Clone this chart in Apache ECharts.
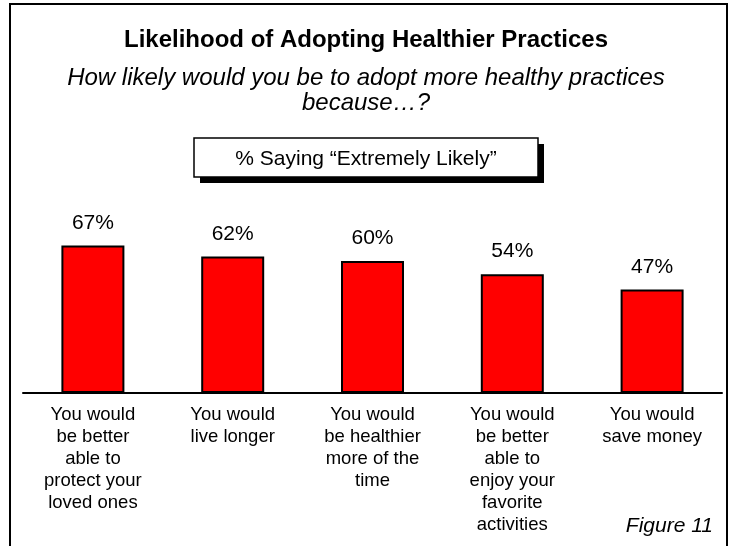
<!DOCTYPE html>
<html>
<head>
<meta charset="utf-8">
<script src="https://cdn.jsdelivr.net/npm/echarts@6/dist/echarts.min.js"></script>
<style>
  html, body { margin: 0; padding: 0; background: #fff; }
  #chart { width: 730px; height: 546px; }
</style>
</head>
<body>
<div id="chart"></div>
<script>
// Survey reasons (category labels, with manual line breaks)
const categories = [
  'You would\nbe better\nable to\nprotect your\nloved ones',
  'You would\nlive longer',
  'You would\nbe healthier\nmore of the\ntime',
  'You would\nbe better\nable to\nenjoy your\nfavorite\nactivities',
  'You would\nsave money'
];
// Percent saying "Extremely Likely"
const extremelyLikely = [67, 62, 60, 54, 47];

const titleText = 'Likelihood of Adopting Healthier Practices';
const subtitleText = 'How likely would you be to adopt more healthy practices\nbecause\u2026?';
const boxText = '% Saying \u201cExtremely Likely\u201d';
const figureText = 'Figure 11';

const FONT = '"Liberation Sans", Arial, Helvetica, sans-serif';

const chart = echarts.init(document.getElementById('chart'), null, { renderer: 'canvas' });

chart.setOption({
  backgroundColor: '#ffffff',
  animation: false,
  grid: { left: 23, right: 8, top: 173, bottom: 546 - 393, containLabel: false },
  xAxis: {
    type: 'category',
    data: categories,
    axisLine: { show: true, lineStyle: { color: '#000', width: 2 } },
    axisTick: { show: false },
    axisLabel: {
      interval: 0,
      margin: 11,
      fontFamily: FONT,
      fontSize: 18.5,
      lineHeight: 22,
      color: '#000',
      align: 'center'
    }
  },
  yAxis: {
    type: 'value',
    min: 0,
    max: 100,
    show: false,
    splitLine: { show: false }
  },
  series: [{
    type: 'bar',
    data: extremelyLikely,
    barWidth: 63,
    itemStyle: { color: '#ff0000', borderColor: '#000', borderWidth: 2 },
    label: {
      show: true,
      position: 'top',
      distance: 12,
      formatter: p => p.value + '%',
      fontFamily: FONT,
      fontSize: 21,
      color: '#000'
    }
  }],
  graphic: [
    // outer frame
    {
      type: 'rect', z: 100, silent: true,
      shape: { x: 10, y: 4, width: 717, height: 580 },
      style: { fill: 'none', stroke: '#000', lineWidth: 2 }
    },
    // heading
    {
      type: 'text', z: 100,
      style: {
        text: titleText, x: 366, y: 40, align: 'center', verticalAlign: 'middle',
        font: 'bold 24px ' + FONT, fill: '#000'
      }
    },
    {
      type: 'text', z: 100,
      style: {
        text: subtitleText, x: 366, y: 91, align: 'center', verticalAlign: 'middle',
        font: 'italic 24px ' + FONT, lineHeight: 25, fill: '#000'
      }
    },
    // callout box with drop shadow
    {
      type: 'rect', z: 99,
      shape: { x: 200, y: 144, width: 344, height: 39 },
      style: { fill: '#000' }
    },
    {
      type: 'rect', z: 100,
      shape: { x: 194, y: 138, width: 344, height: 39 },
      style: { fill: '#fff', stroke: '#000', lineWidth: 1.5 }
    },
    {
      type: 'text', z: 101,
      style: {
        text: boxText, x: 366, y: 159, align: 'center', verticalAlign: 'middle',
        font: '21px ' + FONT, fill: '#000'
      }
    },
    {
      type: 'text', z: 100,
      style: {
        text: figureText, x: 713, y: 526, align: 'right', verticalAlign: 'middle',
        font: 'italic 21px ' + FONT, fill: '#000'
      }
    }
  ]
});
</script>
</body>
</html>
